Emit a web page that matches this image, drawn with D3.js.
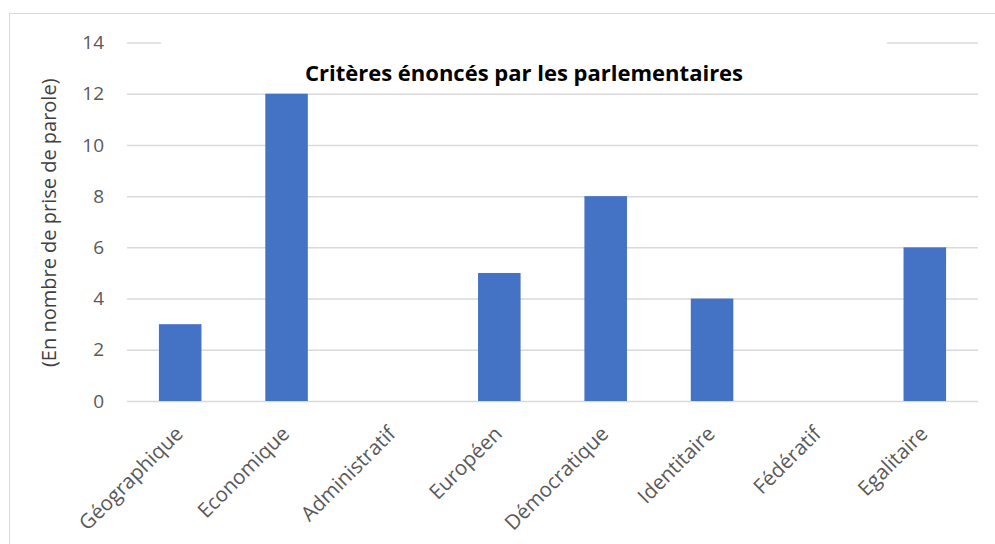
<!DOCTYPE html>
<html>
<head>
<meta charset="utf-8">
<script src="https://cdn.jsdelivr.net/npm/d3@7"></script>
<style>
  html, body { margin: 0; padding: 0; background: #fff; }
  svg { display: block; }
</style>
</head>
<body>
<svg id="chart" width="995" height="544"></svg>
<script>
// Critères énoncés par les parlementaires (en nombre de prise de parole)
const categories = ["Géographique", "Economique", "Administratif", "Européen",
                    "Démocratique", "Identitaire", "Fédératif", "Egalitaire"];
const values = [3, 12, 0, 5, 8, 4, 0, 6];
const yTicks = [0, 2, 4, 6, 8, 10, 12, 14];
const title = "Critères énoncés par les parlementaires";
const yTitle = "(En nombre de prise de parole)";

const svg = d3.select("#chart");
const W = 995, H = 544;
const plot = { left: 127, right: 978, top: 42.5, bottom: 401 };
const font = "'Open Sans', 'Noto Sans', sans-serif";

// outer chart frame
svg.append("rect")
  .attr("x", 9.5).attr("y", 13.5)
  .attr("width", W).attr("height", H)
  .attr("fill", "#fff").attr("stroke", "#d9d9d9").attr("stroke-width", 1);

const x = d3.scaleBand().domain(categories)
  .range([plot.left, plot.right]).paddingInner(0.6).paddingOuter(0.3);
const y = d3.scaleLinear().domain([0, 14]).range([plot.bottom, plot.top]);

// gridlines and value labels
const yAxis = d3.axisLeft(y).tickValues(yTicks)
  .tickSize(-(plot.right - plot.left)).tickPadding(23).tickFormat(d3.format("d"));
const gy = svg.append("g").attr("transform", `translate(${plot.left},0)`).call(yAxis);
gy.select(".domain").remove();
gy.selectAll(".tick line").attr("stroke", "#d9d9d9").attr("stroke-width", 1.5);
gy.selectAll(".tick text")
  .attr("fill", "#595959").attr("font-family", font).attr("font-size", 19);

// bars
svg.append("g").selectAll("rect").data(categories).join("rect")
  .attr("x", d => x(d))
  .attr("width", x.bandwidth())
  .attr("y", (d, i) => y(values[i]))
  .attr("height", (d, i) => y(0) - y(values[i]))
  .attr("fill", "#4472c4");

// category labels, rotated
const xAxis = d3.axisBottom(x).tickSize(0).tickPadding(0);
const gx = svg.append("g").attr("transform", `translate(0,${plot.bottom})`).call(xAxis);
gx.select(".domain").remove();
gx.selectAll(".tick text")
  .attr("fill", "#595959").attr("font-family", font).attr("font-size", 20.5)
  .attr("text-anchor", "end")
  .attr("dy", 0).attr("y", 0)
  .attr("transform", "translate(4,34) rotate(-45)");

// title with white backing box
svg.append("rect")
  .attr("x", 161).attr("y", 30).attr("width", 726).attr("height", 56)
  .attr("fill", "#fff");
svg.append("text")
  .attr("x", 524).attr("y", 81)
  .attr("text-anchor", "middle")
  .attr("font-family", font).attr("font-weight", "bold").attr("font-size", 22)
  .attr("fill", "#000")
  .text(title);

// y axis title
svg.append("text")
  .attr("transform", `translate(56,${(plot.top + plot.bottom) / 2 + 1}) rotate(-90)`)
  .attr("text-anchor", "middle")
  .attr("font-family", font).attr("font-size", 20)
  .attr("fill", "#404040")
  .text(yTitle);
</script>
</body>
</html>
